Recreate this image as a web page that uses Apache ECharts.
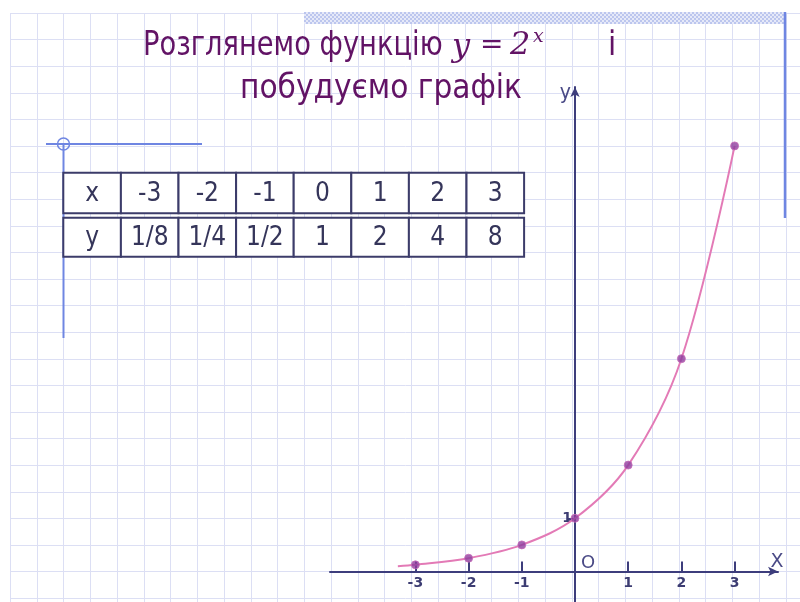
<!DOCTYPE html>
<html><head><meta charset="utf-8">
<script src="https://cdn.jsdelivr.net/npm/echarts@6/dist/echarts.min.js"></script>
<style>html,body{margin:0;padding:0;background:#fff}#c{width:800px;height:602px}</style>
</head><body><div id="c"></div>
<script>
// ---- data ----
const xValues = [-3, -2, -1, 0, 1, 2, 3];
const yValues = [0.125, 0.25, 0.5, 1, 2, 4, 8];
const yLabels = ['1/8', '1/4', '1/2', '1', '2', '4', '8'];
const curveStart = [-3.33, 0.1];          // where the drawn curve begins
const xTickValues = [-3, -2, -1, 1, 2, 3];
const yTickValues = [1];
const titleLine1 = 'Розглянемо функцію';
const titleLine2 = 'побудуємо графік';

// ---- layout ----
const unit = 53.2, ox = 575, oy = 571.5;
const gLeft = 330, gRight = 778, gTop = 87, gBottom = 602;
const xMin = -(ox - gLeft) / unit, xMax = (gRight - ox) / unit;
const yMax = (oy - gTop) / unit, yMin = -(gBottom - oy) / unit;
const axisColor = '#3d3d7c';
const deco = '#6f86e2';
const titleColor = '#621365';
const TF = '"DejaVu Sans Condensed", "DejaVu Sans", sans-serif';

const chart = echarts.init(document.getElementById('c'));

// hatched pattern for the top bar
const pc = document.createElement('canvas');
pc.width = 4; pc.height = 4;
const pctx = pc.getContext('2d');
pctx.fillStyle = '#e6e9f8'; pctx.fillRect(0, 0, 4, 4);
pctx.fillStyle = '#bcc6ee';
pctx.fillRect(0, 0, 2, 2); pctx.fillRect(2, 2, 2, 2);

// table graphic built from data arrays
const tableEls = [];
const tx0 = 63.3, cw = 57.6;
const rows = [
  { top: 172.7, h: 40.6, cells: ['x'].concat(xValues.map(String)) },
  { top: 217.7, h: 39.0, cells: ['y'].concat(yLabels) }
];
rows.forEach(r => r.cells.forEach((t, i) => {
  tableEls.push({ type: 'rect', z: 10,
    shape: { x: tx0 + i * cw, y: r.top, width: cw, height: r.h },
    style: { fill: '#ffffff', stroke: '#3c3c6a', lineWidth: 2 } });
  tableEls.push({ type: 'text', z: 11, x: tx0 + i * cw + cw / 2, y: r.top + r.h / 2 + 1,
    style: { text: t, font: '26px ' + TF, fill: '#35355a', align: 'center', verticalAlign: 'middle' } });
}));

const curveData = [curveStart].concat(xValues.map((x, i) => [x, yValues[i]]));
const pointData = xValues.map((x, i) => [x, yValues[i]]);

const hidden = { axisLine: { show: false }, axisTick: { show: false }, axisLabel: { show: false }, splitLine: { show: false } };

const option = {
  backgroundColor: '#ffffff',
  animation: false,
  grid: [
    { left: 10, top: 13, width: 30 * 26.75, height: 23 * 26.6, show: false, containLabel: false, outerBoundsMode: 'none' },
    { left: gLeft, top: gTop, width: gRight - gLeft, height: oy - gTop, show: false, containLabel: false, outerBoundsMode: 'none' },
    { left: ox, top: gTop, width: gRight - ox, height: gBottom - gTop, show: false, containLabel: false, outerBoundsMode: 'none' }
  ],
  xAxis: [
    { gridIndex: 0, type: 'value', min: 0, max: 30, interval: 1,
      axisLine: { show: false }, axisTick: { show: false }, axisLabel: { show: false },
      splitLine: { show: true, lineStyle: { color: '#dcdff4', width: 1 } } },
    { gridIndex: 1, type: 'value', min: xMin, max: xMax, position: 'bottom',
      axisLine: { show: true, onZero: false, symbol: ['none', 'arrow'], symbolSize: [7, 10],
        lineStyle: { color: axisColor, width: 2 } },
      axisTick: { show: true, inside: true, length: 10, customValues: xTickValues,
        lineStyle: { color: axisColor, width: 2 } },
      axisLabel: { show: true, customValues: xTickValues, margin: 5,
        color: '#3c3c72', fontFamily: 'DejaVu Sans', fontWeight: 'bold', fontSize: 14 },
      splitLine: { show: false },
      name: 'X', nameLocation: 'end', nameGap: -1,
      nameTextStyle: { color: '#4a4a86', fontFamily: 'DejaVu Sans', fontSize: 19,
        align: 'center', verticalAlign: 'bottom', padding: [0, 0, 0, 0] } },
    Object.assign({ gridIndex: 2, type: 'value', min: 0, max: 1 }, hidden)
  ],
  yAxis: [
    { gridIndex: 0, type: 'value', inverse: true, min: 0, max: 23, interval: 1,
      axisLine: { show: false }, axisTick: { show: false }, axisLabel: { show: false },
      splitLine: { show: true, lineStyle: { color: '#dcdff4', width: 1 } } },
    Object.assign({ gridIndex: 1, type: 'value', min: 0, max: yMax }, hidden),
    { gridIndex: 2, type: 'value', min: yMin, max: yMax, position: 'left',
      axisLine: { show: true, onZero: false, symbol: ['none', 'arrow'], symbolSize: [7, 10],
        lineStyle: { color: axisColor, width: 2 } },
      axisTick: { show: true, inside: false, length: 7, customValues: yTickValues,
        lineStyle: { color: axisColor, width: 2 } },
      axisLabel: { show: true, customValues: yTickValues, margin: 3,
        color: '#3c3c72', fontFamily: 'DejaVu Sans', fontWeight: 'bold', fontSize: 14,
        padding: [0, 0, 4, 0] },
      splitLine: { show: false },
      name: 'y', nameLocation: 'end', nameGap: 4,
      nameTextStyle: { color: '#4a4a86', fontFamily: TF, fontSize: 21,
        align: 'right', verticalAlign: 'top', padding: [0, 4, 0, 0] } }
  ],
  series: [
    { type: 'line', xAxisIndex: 1, yAxisIndex: 1, data: curveData, smooth: 0.35,
      showSymbol: false, silent: true, z: 3, clip: false,
      lineStyle: { color: '#e37ab6', width: 2 } },
    { type: 'scatter', xAxisIndex: 1, yAxisIndex: 1, data: pointData, symbol: 'circle',
      symbolSize: 8, z: 4, clip: false,
      itemStyle: { color: '#8d3d9e', borderColor: '#c86ab8', borderWidth: 1 } }
  ],
  graphic: [
    // top hatched bar and right vertical line
    { type: 'rect', z: 1, shape: { x: 304, y: 12, width: 482, height: 12 },
      style: { fill: { image: pc, repeat: 'repeat' } } },
    { type: 'line', z: 2, shape: { x1: 785, y1: 12, x2: 785, y2: 218 },
      style: { stroke: deco, lineWidth: 2.5 } },
    // left decoration
    { type: 'line', z: 2, shape: { x1: 46, y1: 144, x2: 202, y2: 144 },
      style: { stroke: deco, lineWidth: 2 } },
    { type: 'line', z: 2, shape: { x1: 63.5, y1: 144, x2: 63.5, y2: 338 },
      style: { stroke: deco, lineWidth: 2 } },
    { type: 'circle', z: 2, shape: { cx: 63.5, cy: 144, r: 6 },
      style: { fill: 'none', stroke: deco, lineWidth: 1.5 } },
    // title
    { type: 'text', z: 12, x: 143, y: 46, scaleX: 0.92,
      style: { text: titleLine1, font: '33px ' + TF, fill: titleColor, verticalAlign: 'middle' } },
    { type: 'text', z: 12, x: 452, y: 48,
      style: { text: 'y', font: 'italic 32px "DejaVu Serif", serif', fill: titleColor, verticalAlign: 'middle' } },
    { type: 'text', z: 12, x: 480, y: 46,
      style: { text: '=', font: '28px "DejaVu Serif", serif', fill: titleColor, verticalAlign: 'middle' } },
    { type: 'text', z: 12, x: 510, y: 46,
      style: { text: '2', font: 'italic 32px "DejaVu Serif", serif', fill: titleColor, verticalAlign: 'middle' } },
    { type: 'text', z: 12, x: 533, y: 37,
      style: { text: 'x', font: 'italic 19px "DejaVu Serif", serif', fill: titleColor, verticalAlign: 'middle' } },
    { type: 'text', z: 12, x: 608, y: 46,
      style: { text: 'і', font: '33px ' + TF, fill: titleColor, verticalAlign: 'middle' } },
    { type: 'text', z: 12, x: 240, y: 89,
      style: { text: titleLine2, font: '33px ' + TF, fill: titleColor, verticalAlign: 'middle' } },
    // origin label
    { type: 'text', z: 12, x: 588, y: 563,
      style: { text: 'O', font: '18px "DejaVu Sans"', fill: '#4a4a86', align: 'center', verticalAlign: 'middle' } }
  ].concat(tableEls)
};
chart.setOption(option);
</script>
</body></html>
